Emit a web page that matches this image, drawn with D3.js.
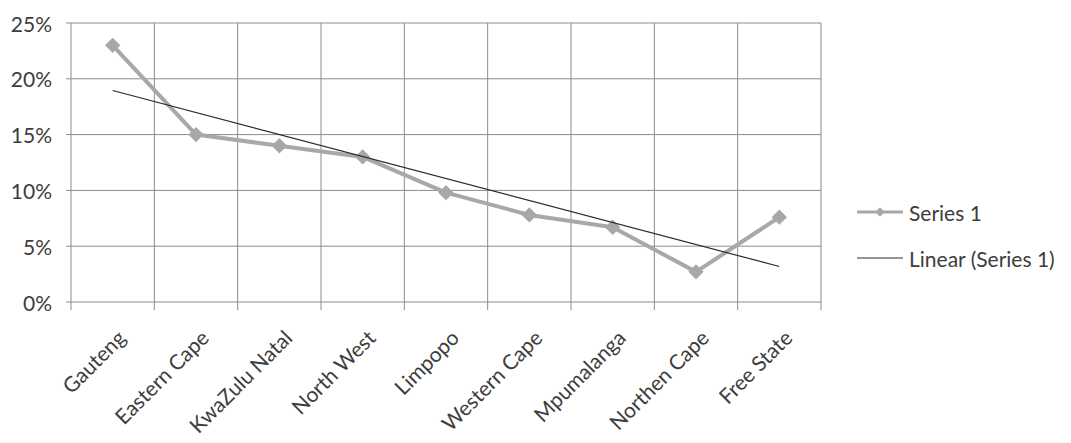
<!DOCTYPE html>
<html>
<head>
<meta charset="utf-8">
<script src="https://cdn.jsdelivr.net/npm/d3@7"></script>
<style>
  html, body { margin: 0; padding: 0; background: #fff; }
  svg { display: block; }
  text { font-family: Lato, "Open Sans", sans-serif; fill: #3d3d3d; }
</style>
</head>
<body>
<svg id="chart" width="1071" height="443"></svg>
<script>
// Provinces and share per province
const provinces = ["Gauteng", "Eastern Cape", "KwaZulu Natal", "North West", "Limpopo",
                   "Western Cape", "Mpumalanga", "Northen Cape", "Free State"];
const series1 = [0.23, 0.15, 0.14, 0.13, 0.098, 0.078, 0.067, 0.027, 0.076];
const yTicks = [0, 0.05, 0.10, 0.15, 0.20, 0.25];
const legendLabels = ["Series 1", "Linear (Series 1)"];

const svg = d3.select("#chart");
const plot = { left: 71, right: 821, top: 23, bottom: 302 };

const x = d3.scaleBand().domain(provinces).range([plot.left, plot.right]).padding(0);
const y = d3.scaleLinear().domain([0, 0.25]).range([plot.bottom, plot.top]);
const cx = d => x(d) + x.bandwidth() / 2;

const gridColor = "#8c8c8c";

// Horizontal gridlines with short outer ticks
svg.append("g").selectAll("line").data(yTicks).join("line")
  .attr("x1", plot.left - 5).attr("x2", plot.right)
  .attr("y1", d => y(d)).attr("y2", d => y(d))
  .attr("stroke", gridColor).attr("stroke-width", 1);

// Vertical gridlines at category boundaries, extending below the axis as ticks
const bounds = provinces.map(p => x(p)).concat([plot.right]);
svg.append("g").selectAll("line").data(bounds).join("line")
  .attr("x1", d => d).attr("x2", d => d)
  .attr("y1", plot.top).attr("y2", plot.bottom + 8)
  .attr("stroke", gridColor).attr("stroke-width", 1);

// Y axis labels
svg.append("g").selectAll("text").data(yTicks).join("text")
  .attr("x", 52).attr("y", d => y(d))
  .attr("text-anchor", "end").attr("dominant-baseline", "central")
  .style("font-size", "21px")
  .text(d3.format(".0%"));

// X axis labels, rotated
svg.append("g").selectAll("text").data(provinces).join("text")
  .attr("text-anchor", "end")
  .attr("transform", d => `translate(${cx(d) + 4},${plot.bottom + 27}) rotate(-45)`)
  .attr("dy", "0.7em")
  .style("font-size", "21px")
  .text(d => d);

// Linear trend line (least squares over category index)
const n = series1.length;
const xs = d3.range(1, n + 1);
const mx = d3.mean(xs), my = d3.mean(series1);
const slope = d3.sum(xs, (v, i) => (v - mx) * (series1[i] - my)) / d3.sum(xs, v => (v - mx) ** 2);
const intercept = my - slope * mx;
const trend = provinces.map((p, i) => [cx(p), y(intercept + slope * (i + 1))]);

// Series line and diamond markers
const seriesColor = "#a8a8a8";
svg.append("path")
  .datum(provinces.map((p, i) => [cx(p), y(series1[i])]))
  .attr("d", d3.line())
  .attr("fill", "none").attr("stroke", seriesColor).attr("stroke-width", 4)
  .attr("stroke-linejoin", "round");

const diamond = d3.symbol().type(d3.symbolDiamond2).size(150);
svg.append("g").selectAll("path").data(provinces).join("path")
  .attr("transform", (p, i) => `translate(${cx(p)},${y(series1[i])})`)
  .attr("d", diamond)
  .attr("fill", seriesColor);

svg.append("path")
  .datum([trend[0], trend[n - 1]])
  .attr("d", d3.line())
  .attr("fill", "none").attr("stroke", "#2b2b2b").attr("stroke-width", 1.2);

// Legend
const lg = svg.append("g");
lg.append("line").attr("x1", 857).attr("x2", 903).attr("y1", 212).attr("y2", 212)
  .attr("stroke", seriesColor).attr("stroke-width", 3);
lg.append("path").attr("transform", "translate(880,212)")
  .attr("d", d3.symbol().type(d3.symbolDiamond2).size(60)).attr("fill", seriesColor);
lg.append("line").attr("x1", 857).attr("x2", 903).attr("y1", 258).attr("y2", 258)
  .attr("stroke", "#2b2b2b").attr("stroke-width", 1.2);
lg.selectAll("text").data(legendLabels).join("text")
  .attr("x", 909).attr("y", (d, i) => 212 + i * 46)
  .attr("dominant-baseline", "central")
  .style("font-size", "21px")
  .text(d => d);
</script>
</body>
</html>
